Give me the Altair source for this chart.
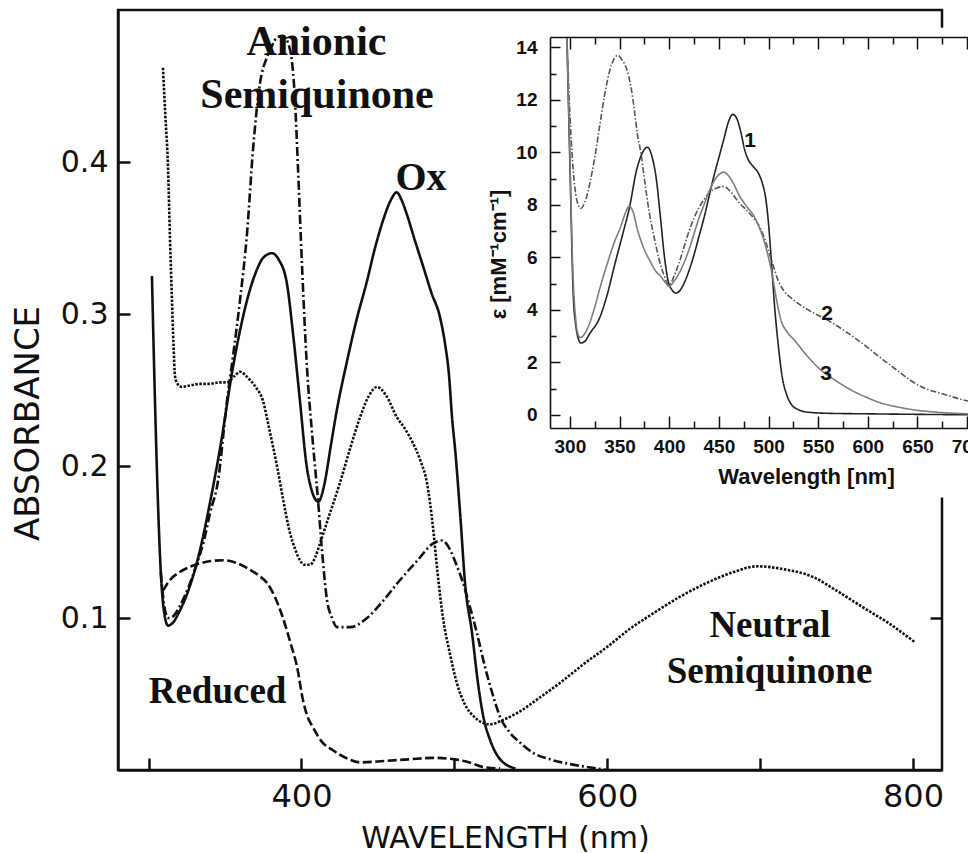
import altair as alt
import pandas as pd

# ---------------- main panel: absorbance vs wavelength (nm) ----------------
ox_nm = [302.2, 304, 306, 308, 310, 312.7, 316, 320, 326, 333, 340, 347, 355.2, 360, 364.4, 370, 375, 380.7,
         385, 390.5, 394.5, 399, 403.4, 407, 411, 415, 419, 423, 429.6, 436, 442.7, 448, 453.5, 458, 462.3,
         465.5, 468.8, 474, 479.7, 485, 490.6, 494, 496.5, 498.5, 500.6, 504, 507, 511.6, 515.5, 519, 523.3, 530, 540]
ox_abs = [0.325, 0.25, 0.18, 0.13, 0.105, 0.095, 0.097, 0.104, 0.118, 0.142, 0.175, 0.213, 0.265, 0.29, 0.309,
          0.327, 0.337, 0.34, 0.336, 0.32, 0.287, 0.243, 0.2, 0.183, 0.1765, 0.188, 0.212, 0.236, 0.268, 0.296,
          0.321, 0.343, 0.362, 0.374, 0.38, 0.375, 0.366, 0.349, 0.331, 0.314, 0.298, 0.28, 0.26, 0.232, 0.21,
          0.166, 0.123, 0.09, 0.057, 0.035, 0.02, 0.007, 0.001]

anionic_nm = [308, 310, 312.7, 316, 320, 326, 331.7, 336, 340.2, 345.4, 351.3, 355.2, 359.8, 364.4, 368.3, 372.9,
              377.5, 381, 384, 388, 392.5, 395.8, 397.7, 400.4, 403.6, 406.9, 410.8, 413.4, 416.7, 420, 423.3,
              431.8, 442.9, 454, 464.5, 476, 486, 492, 497.2, 501, 505.7, 510, 514.8, 520, 525, 529.9, 536, 543,
              552, 562.6, 575, 586.8, 600]
anionic_abs = [0.13, 0.11, 0.1, 0.101, 0.107, 0.12, 0.136, 0.15, 0.169, 0.19, 0.243, 0.272, 0.309, 0.353, 0.408,
               0.452, 0.469, 0.477, 0.482, 0.483, 0.474, 0.44, 0.397, 0.331, 0.265, 0.222, 0.178, 0.145, 0.112,
               0.1, 0.094, 0.094, 0.1, 0.112, 0.125, 0.138, 0.149, 0.151, 0.145, 0.136, 0.123, 0.108, 0.09,
               0.068, 0.05, 0.035, 0.025, 0.018, 0.011, 0.007, 0.004, 0.002, 0.0]

neutral_nm = [309.4, 311, 312.7, 314, 315.3, 316.3, 317.3, 319, 321.9, 327, 333.6, 340, 346, 351.3, 356, 359.8,
              365, 370, 374.8, 379, 384, 388, 392.5, 396, 399, 402, 405.6, 409, 412.1, 418, 425.2, 432, 438.3,
              444, 449.4, 455, 462.5, 468, 473, 478, 482.1, 486, 489, 492.6, 497, 501.7, 507, 513, 518.7, 523.3,
              532, 542, 555, 570, 585, 600, 615, 630, 647.6, 665, 682, 698, 716, 734.6, 750, 767.3, 785, 801.3]
neutral_abs = [0.462, 0.43, 0.397, 0.35, 0.309, 0.28, 0.259, 0.254, 0.252, 0.253, 0.254, 0.254, 0.255, 0.255,
               0.259, 0.262, 0.258, 0.252, 0.243, 0.224, 0.2, 0.178, 0.156, 0.145, 0.138, 0.135, 0.135, 0.14,
               0.149, 0.167, 0.189, 0.212, 0.232, 0.246, 0.252, 0.247, 0.232, 0.224, 0.215, 0.203, 0.189, 0.16,
               0.13, 0.1, 0.077, 0.057, 0.043, 0.035, 0.031, 0.03, 0.033, 0.038, 0.047, 0.058, 0.07, 0.081,
               0.093, 0.103, 0.114, 0.123, 0.13, 0.134, 0.132, 0.127, 0.118, 0.107, 0.096, 0.084]

reduced_nm = [309.4, 314, 320, 328, 338, 348.7, 358, 366, 372, 377.5, 383, 387.9, 393, 397.1, 401, 404, 407.6,
              413, 420.6, 429, 438.3, 455, 470, 486, 500, 510, 518.7, 530]
reduced_abs = [0.118, 0.125, 0.13, 0.134, 0.137, 0.138, 0.136, 0.132, 0.128, 0.123, 0.113, 0.1, 0.083, 0.068,
               0.046, 0.035, 0.028, 0.019, 0.013, 0.008, 0.005, 0.006, 0.007, 0.008, 0.007, 0.005, 0.002, 0.001]

main_series = ["Ox", "Anionic semiquinone", "Neutral semiquinone", "Reduced"]
main_x_ticks = [300, 400, 500, 600, 700, 800]
main_x_labels = [400, 600, 800]
main_y_ticks = [0.1, 0.2, 0.3, 0.4]

# annotation texts of the main panel
big_labels = ["Anionic", "Semiquinone"]
big_label_nm = [409.8, 410.2]
big_label_abs = [0.4704, 0.4355]
ox_label = ["Ox"]
ox_label_nm = [478.2]
ox_label_abs = [0.3816]
mid_labels = ["Reduced", "Neutral", "Semiquinone"]
mid_label_nm = [345.1, 706.5, 706.2]
mid_label_abs = [0.0441, 0.0875, 0.0572]

# ---------------- inset: epsilon (mM-1 cm-1) vs wavelength (nm) ----------------
c1_nm = [297, 300, 303.5, 306, 309, 311, 315, 320, 330, 337, 345, 354, 360, 367, 372, 378, 383, 387, 391, 395,
         399, 403, 407, 411, 416, 420, 425, 430, 435, 440, 445, 450, 455, 460, 464, 468, 472, 476, 480, 485, 490,
         494, 497, 500, 503, 506, 510, 514, 518, 523, 530, 540, 560, 600, 650, 720]
c1_eps = [14.4, 9.6, 4.5, 3.4, 2.85, 2.74, 2.8, 3.1, 3.7, 4.5, 5.7, 7.0, 7.9, 9.3, 9.9, 10.2, 9.8, 9.0, 7.6, 6.1,
          5.1, 4.75, 4.64, 4.75, 5.1, 5.5, 6.1, 6.8, 7.5, 8.3, 9.1, 9.8, 10.5, 11.2, 11.45, 11.3, 10.8, 10.1, 9.7,
          9.45, 9.2, 8.8, 8.3, 7.3, 5.8, 4.2, 2.6, 1.4, 0.8, 0.4, 0.2, 0.1, 0.06, 0.04, 0.02, 0.0]
c2_nm = [297, 300, 303, 306, 309, 311, 315, 320, 325, 330, 335, 340, 345, 348.4, 352, 357, 361.5, 365, 368, 371.6,
         375, 380, 384.7, 390, 395, 399.8, 405, 410, 415, 420, 425, 430, 435, 440, 448, 455, 462, 470, 478, 485,
         492, 498, 503, 510, 516, 523, 540, 560, 590, 620, 654, 680, 696, 720]
c2_eps = [14.4, 11.5, 9.5, 8.4, 7.95, 7.87, 8.1, 8.8, 9.8, 11.0, 12.2, 13.1, 13.6, 13.7, 13.55, 13.2, 12.5, 11.6,
          10.7, 9.97, 9.0, 7.7, 6.8, 5.9, 5.3, 4.94, 5.3, 5.8, 6.4, 7.0, 7.5, 7.9, 8.2, 8.45, 8.65, 8.7, 8.5, 8.1,
          7.8, 7.5, 7.1, 6.5, 5.9, 5.1, 4.7, 4.45, 4.0, 3.6, 2.85, 1.97, 1.07, 0.75, 0.57, 0.45]
c3_nm = [297, 300, 303, 306, 309, 311, 315, 320, 325, 330, 338, 345, 351, 356, 359.5, 363, 368.5, 375, 381.6, 386,
         391.7, 396, 400, 405, 410, 415, 420, 425, 430, 435, 440, 445, 450, 455, 460, 465, 470, 475, 480, 485, 490,
         495, 500, 504, 508, 512.7, 519, 526, 540, 553, 568, 583, 598, 613.5, 630, 647, 670, 695, 720]
c3_eps = [14.4, 10.0, 5.5, 3.6, 3.0, 2.95, 3.1, 3.5, 4.1, 4.8, 5.8, 6.6, 7.15, 7.7, 7.95, 7.8, 7.0, 6.3, 5.8, 5.5,
          5.27, 5.05, 4.9, 5.1, 5.4, 5.8, 6.3, 6.9, 7.5, 8.0, 8.5, 8.9, 9.15, 9.25, 9.1, 8.8, 8.4, 8.1, 7.85, 7.6,
          7.2, 6.7, 6.0, 5.3, 4.4, 3.6, 3.15, 2.85, 2.2, 1.7, 1.3, 0.95, 0.68, 0.45, 0.3, 0.19, 0.1, 0.05, 0.03]

inset_series = ["1", "2", "3"]
inset_x_major = [300, 350, 400, 450, 500, 550, 600, 650, 700]
inset_x_minor = [325, 375, 425, 475, 525, 575, 625, 675]
inset_y_major = [0, 2, 4, 6, 8, 10, 12, 14]
inset_y_minor = [1, 3, 5, 7, 9, 11, 13]
inset_label_1 = ["1"]
inset_label_1_nm = [481.4]
inset_label_1_eps = [10.21]
inset_labels_23 = ["2", "3"]
inset_labels_23_nm = [559, 558]
inset_labels_23_eps = [3.62, 1.33]
inset_panel_nm = [205, 760]
inset_panel_eps = [-3.15, 14.75]

# ---------------- tables ----------------
main_df = pd.concat([
    pd.DataFrame({"nm": ox_nm, "val": ox_abs, "series": main_series[0]}),
    pd.DataFrame({"nm": anionic_nm, "val": anionic_abs, "series": main_series[1]}),
    pd.DataFrame({"nm": neutral_nm, "val": neutral_abs, "series": main_series[2]}),
    pd.DataFrame({"nm": reduced_nm, "val": reduced_abs, "series": main_series[3]}),
], ignore_index=True)
inset_df = pd.concat([
    pd.DataFrame({"nm": c1_nm, "val": c1_eps, "series": "1"}),
    pd.DataFrame({"nm": c2_nm, "val": c2_eps, "series": "2"}),
    pd.DataFrame({"nm": c3_nm, "val": c3_eps, "series": "3"}),
], ignore_index=True)

INK = "#111111"
W, H = 824, 760


def inward(n):
    return {"expr": str(-n)}


x_main = alt.Scale(domain=[280, 819], nice=False, zero=False)
y_main = alt.Scale(domain=[0, 0.5], nice=False, zero=False)
x_ins = alt.Scale(domain=[280, 720], range=[432, 869], nice=False, zero=False)
y_ins = alt.Scale(domain=[-0.5, 14.4], range=[418, 27], nice=False, zero=False)

# ---------------- main axes ----------------
main_x_tick_axis = alt.Axis(
    orient="bottom", values=main_x_ticks, tickSize=inward(12), tickWidth=2.5, tickColor=INK,
    domainColor=INK, domainWidth=2.5, grid=False, labels=False, title=None, zindex=0)
main_x_label_axis = alt.Axis(
    orient="bottom", values=main_x_labels, ticks=False, domain=False, grid=False,
    labelFont="DejaVu Sans", labelFontSize=32, labelColor=INK, labelPadding=11, labelFlush=False,
    labelOverlap=False, title="WAVELENGTH (nm)", titleFont="DejaVu Sans", titleFontSize=30,
    titleFontWeight="normal", titleColor=INK, titleX=387, titleY=77, titleBaseline="alphabetic", zindex=0)
main_y_axis = alt.Axis(
    orient="left", values=main_y_ticks, tickSize=inward(12), tickWidth=2.5, tickColor=INK, domainColor=INK,
    domainWidth=2.5, grid=False, labelFont="DejaVu Sans", labelFontSize=30, labelColor=INK, labelPadding=22,
    labelFlush=False, labelOverlap=False, title="ABSORBANCE", titleFont="DejaVu Sans", titleFontSize=34,
    titleFontWeight="normal", titleColor=INK, titleX=-90, titleY=413, titleBaseline="middle", zindex=0)
main_right_axis = alt.Axis(
    orient="right", values=main_y_ticks, tickSize=inward(12), tickWidth=2.5, tickColor=INK, domain=False,
    labels=False, grid=False, title=None, zindex=0)

main_lines = alt.Chart(main_df).mark_line(color=INK, strokeWidth=2.6, interpolate="monotone").encode(
    x=alt.X("nm:Q", scale=x_main, axis=main_x_tick_axis),
    y=alt.Y("val:Q", scale=y_main, axis=main_y_axis),
    strokeDash=alt.StrokeDash("series:N", legend=None, scale=alt.Scale(
        domain=main_series, range=[[1, 0], [9, 3, 2, 3], [2.5, 1.5], [9, 3.5]])),
)

serif = dict(font="Liberation Serif", fontWeight="bold", color=INK, align="center", baseline="alphabetic")
t_big = alt.Chart(pd.DataFrame({"label": big_labels, "nm": big_label_nm, "val": big_label_abs})).mark_text(
    fontSize=42, **serif).encode(
    x=alt.X("nm:Q", scale=x_main, axis=main_x_label_axis),
    y=alt.Y("val:Q", scale=y_main, axis=main_right_axis),
    text="label:N")
t_ox = alt.Chart(pd.DataFrame({"label": ox_label, "nm": ox_label_nm, "val": ox_label_abs})).mark_text(
    fontSize=40, **serif).encode(
    x=alt.X("nm:Q", scale=x_main, axis=None),
    y=alt.Y("val:Q", scale=y_main, axis=None),
    text="label:N")
t_mid = alt.Chart(pd.DataFrame({"label": mid_labels, "nm": mid_label_nm, "val": mid_label_abs})).mark_text(
    fontSize=37, **serif).encode(
    x=alt.X("nm:Q", scale=x_main, axis=None),
    y=alt.Y("val:Q", scale=y_main, axis=None),
    text="label:N")

main_group = alt.layer(main_lines, t_big, t_ox, t_mid).resolve_axis(x="independent", y="independent")

# ---------------- inset axes ----------------
ins_common = dict(tickColor=INK, tickWidth=1.5, grid=False, zindex=1, labelFlush=False, labelOverlap=False)
ins_bottom_major = alt.Axis(
    orient="bottom", offset=-(H - 418), values=inset_x_major, tickSize=inward(12), domainColor=INK,
    domainWidth=1.6, labelFont="Liberation Sans", labelFontWeight="bold", labelFontSize=19, labelColor=INK,
    labelPadding=21, title="Wavelength [nm]", titleFont="Liberation Sans", titleFontWeight="bold",
    titleFontSize=22, titleColor=INK, titleX=688, titleY=55, titleBaseline="alphabetic", **ins_common)
ins_bottom_minor = alt.Axis(
    orient="bottom", offset=-(H - 418), values=inset_x_minor, tickSize=inward(7), domain=False, labels=False,
    title=None, **ins_common)
ins_top_major = alt.Axis(
    orient="top", offset=-27, values=inset_x_major, tickSize=inward(12), domainColor=INK, domainWidth=1.6,
    labels=False, title=None, **ins_common)
ins_top_minor = alt.Axis(
    orient="top", offset=-27, values=inset_x_minor, tickSize=inward(7), domain=False, labels=False,
    title=None, **ins_common)
ins_left_major = alt.Axis(
    orient="left", offset=-432, values=inset_y_major, tickSize=inward(10), domainColor=INK, domainWidth=1.6,
    labelFont="Liberation Sans", labelFontWeight="bold", labelFontSize=19, labelColor=INK, labelPadding=23,
    title="ε [mM⁻¹cm⁻¹]", titleFont="Liberation Sans", titleFontWeight="bold", titleFontSize=22,
    titleColor=INK, titleX=-52, titleY=244, titleBaseline="middle", **ins_common)
ins_left_minor = alt.Axis(
    orient="left", offset=-432, values=inset_y_minor, tickSize=inward(6), domain=False, labels=False,
    title=None, **ins_common)

panel_df = pd.DataFrame({"x": [inset_panel_nm[0]], "x2": [inset_panel_nm[1]],
                         "y": [inset_panel_eps[0]], "y2": [inset_panel_eps[1]]})
i_bg = alt.Chart(panel_df).mark_rect(color="white").encode(
    x=alt.X("x:Q", scale=x_ins, axis=ins_top_major), x2="x2:Q",
    y=alt.Y("y:Q", scale=y_ins, axis=None), y2="y2:Q")

i_lines = alt.Chart(inset_df).mark_line(strokeWidth=1.6, interpolate="monotone").encode(
    x=alt.X("nm:Q", scale=x_ins, axis=ins_bottom_major),
    y=alt.Y("val:Q", scale=y_ins, axis=ins_left_major),
    color=alt.Color("series:N", legend=None, scale=alt.Scale(
        domain=inset_series, range=["#222222", "#555555", "#7d7d7d"])),
    strokeDash=alt.StrokeDash("series:N", legend=None, scale=alt.Scale(
        domain=inset_series, range=[[1, 0], [6, 2, 1.5, 2], [1, 0]])),
)

sans = dict(font="Liberation Sans", fontWeight="bold", fontSize=21, color=INK, align="center",
            baseline="alphabetic")
i_t1 = alt.Chart(pd.DataFrame({"label": inset_label_1, "nm": inset_label_1_nm,
                               "val": inset_label_1_eps})).mark_text(**sans).encode(
    x=alt.X("nm:Q", scale=x_ins, axis=ins_bottom_minor),
    y=alt.Y("val:Q", scale=y_ins, axis=ins_left_minor),
    text="label:N")
i_t23 = alt.Chart(pd.DataFrame({"label": inset_labels_23, "nm": inset_labels_23_nm,
                                "val": inset_labels_23_eps})).mark_text(**sans).encode(
    x=alt.X("nm:Q", scale=x_ins, axis=ins_top_minor),
    y=alt.Y("val:Q", scale=y_ins, axis=None),
    text="label:N")

inset_group = alt.layer(i_bg, i_lines, i_t1, i_t23).resolve_axis(x="independent", y="independent")

chart = alt.layer(main_group, inset_group).resolve_scale(
    x="independent", y="independent", strokeDash="independent"
).properties(
    width=W, height=H,
    autosize=alt.AutoSizeParams(type="none"),
    padding={"left": 118, "top": 10, "right": 26, "bottom": 83},
    background="white",
).configure_view(stroke=INK, strokeWidth=2.5)

chart.save("out.html", embed_options={"renderer": "svg", "actions": False})
